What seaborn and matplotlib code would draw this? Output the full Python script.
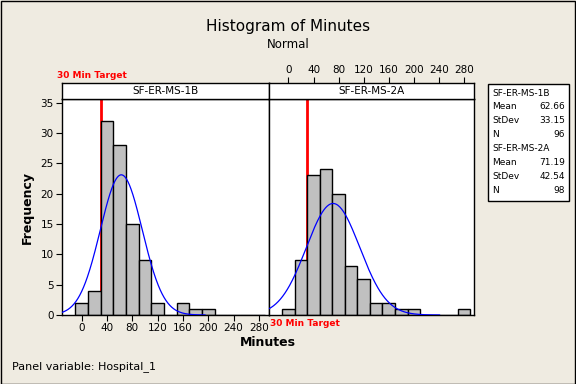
import numpy as np
import pandas as pd
import matplotlib
matplotlib.use('Agg')
import matplotlib.pyplot as plt
import seaborn as sns
from matplotlib.patches import Rectangle

# histogram data (bin centers, 20 min wide)
panels = ['SF-ER-MS-1B', 'SF-ER-MS-2A']
bin_centers = [0, 20, 40, 60, 80, 100, 120, 140, 160, 180, 200, 220, 240, 260, 280]
counts_1b = [2, 4, 32, 28, 15, 9, 2, 0, 2, 1, 1, 0, 0, 0, 0]
counts_2a = [1, 9, 23, 24, 20, 8, 6, 2, 2, 1, 1, 0, 0, 0, 1]
means = [62.66, 71.19]
stdevs = [33.15, 42.54]
ns = [96, 98]
target = 30
x_ticks = [0, 40, 80, 120, 160, 200, 240, 280]
y_ticks = [0, 5, 10, 15, 20, 25, 30, 35]

sns.set_style('ticks')
plt.rcParams['font.family'] = ['DejaVu Sans']
plt.rcParams['text.color'] = 'black'
plt.rcParams['axes.labelcolor'] = 'black'
plt.rcParams['xtick.color'] = 'black'
plt.rcParams['ytick.color'] = 'black'

BG = '#EFEBE1'
W, H = 576, 384
fig = plt.figure(figsize=(5.76, 3.84), dpi=100, facecolor=BG)


def box(x0, y0, x1, y1):
    # pixel box (top-left origin) -> figure fraction rect
    return [x0 / W, 1 - y1 / H, (x1 - x0) / W, (y1 - y0) / H]


edges = list(range(-10, 300, 20))
xlim = (-31, 296)
ylim = (0, 35.6)
panel_x = [(62, 269), (269, 474)]
all_counts = [counts_1b, counts_2a]

for i, name in enumerate(panels):
    x0, x1 = panel_x[i]
    ax = fig.add_axes(box(x0, 99, x1, 315))
    ax.set_facecolor('white')
    df = pd.DataFrame({'Minutes': bin_centers, 'count': all_counts[i]})
    ax.axvline(target, color='#FF0000', lw=2, zorder=0.5)
    sns.histplot(data=df, x='Minutes', weights='count', bins=edges,
                 color='#C0C0C0', edgecolor='black', linewidth=1, alpha=1,
                 ax=ax, zorder=2)
    # fitted normal curve
    m, s, n = means[i], stdevs[i], ns[i]
    xs = np.linspace(max(m - 4 * s, xlim[0]), m + 4 * s, 300)
    ys = n * 20 * np.exp(-0.5 * ((xs - m) / s) ** 2) / (s * np.sqrt(2 * np.pi))
    ax.plot(xs, ys, color='#0000FF', lw=0.9, zorder=3)
    ax.set_xlim(xlim)
    ax.set_ylim(ylim)
    ax.set_xlabel('')
    ax.set_ylabel('')
    for sp in ax.spines.values():
        sp.set_visible(True)
        sp.set_color('black')
        sp.set_linewidth(1)
    if i == 0:
        ax.set_xticks(x_ticks)
        ax.set_yticks(y_ticks)
        ax.tick_params(labelsize=7.5, length=4, width=0.8, pad=2, colors='black')
    else:
        ax.set_xticks([])
        ax.set_yticks([])

    # strip on top
    sax = fig.add_axes(box(x0, 83, x1, 99))
    sax.set_facecolor('white')
    sax.set_xlim(xlim)
    sax.set_yticks([])
    for sp in sax.spines.values():
        sp.set_visible(True)
        sp.set_color('black')
        sp.set_linewidth(1)
    sax.text(0.5, 0.5, name, transform=sax.transAxes, ha='center', va='center',
             fontsize=7.5)
    if i == 1:
        sax.set_xticks(x_ticks)
        sax.xaxis.tick_top()
        sax.tick_params(labelsize=7.5, length=4, width=0.8, pad=2, colors='black')
    else:
        sax.set_xticks([])

# titles and labels
fig.text(288 / W, 1 - 27 / H, 'Histogram of Minutes', ha='center', va='center', fontsize=11)
fig.text(288 / W, 1 - 44 / H, 'Normal', ha='center', va='center', fontsize=8.5)
fig.text(268 / W, 1 - 343 / H, 'Minutes', ha='center', va='center', fontsize=9, fontweight='bold')
fig.text(27 / W, 1 - 207 / H, 'Frequency', ha='center', va='center', rotation=90,
         fontsize=9, fontweight='bold')
fig.text(57 / W, 1 - 76 / H, '30 Min Target', ha='left', va='center', fontsize=6.5,
         fontweight='bold', color='#FF0000')
fig.text(270 / W, 1 - 323 / H, '30 Min Target', ha='left', va='center', fontsize=6.5,
         fontweight='bold', color='#FF0000')
fig.text(12 / W, 1 - 367 / H, 'Panel variable: Hospital_1', ha='left', va='center', fontsize=8)

# stats box
fig.patches.append(Rectangle((488 / W, 1 - 201 / H), 81 / W, 117 / H, transform=fig.transFigure,
                             facecolor='white', edgecolor='black', lw=1, zorder=1))
rows = []
for i, name in enumerate(panels):
    rows.append((name, ''))
    rows.append(('Mean', f'{means[i]:.2f}'))
    rows.append(('StDev', f'{stdevs[i]:.2f}'))
    rows.append(('N', f'{ns[i]}'))
for k, (lab, val) in enumerate(rows):
    y = 1 - (93 + k * 13.9) / H
    fig.text(492 / W, y, lab, ha='left', va='center', fontsize=6.5, zorder=2)
    if val:
        fig.text(565 / W, y, val, ha='right', va='center', fontsize=6.5, zorder=2)

# outer frame
fig.patches.append(Rectangle((0.5 / W, 0.5 / H), 1 - 1.5 / W, 1 - 1.5 / H, transform=fig.transFigure,
                             facecolor='none', edgecolor='black', lw=1))

fig.savefig('out.png', dpi=100, facecolor=BG)
